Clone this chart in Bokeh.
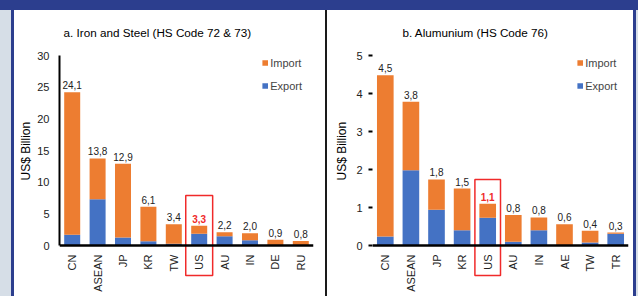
import math
from bokeh.plotting import figure
from bokeh.models import (ColumnDataSource, FixedTicker, Legend, LegendItem, Div,
                          Range1d, FactorRange, InlineStyleSheet, Title)
from bokeh.layouts import row, column
from bokeh.core.properties import value
from bokeh.embed import file_html
from bokeh.resources import INLINE

# ---------------- data ----------------
steel_countries = ["CN", "ASEAN", "JP", "KR", "TW", "US", "AU", "IN", "DE", "RU"]
steel_export = [1.7, 7.3, 1.26, 0.68, 0.26, 1.84, 1.47, 0.84, 0.0, 0.0]
steel_import = [22.5, 6.45, 11.64, 5.42, 3.1, 1.26, 0.63, 1.1, 0.9, 0.7]
steel_labels = ["24,1", "13,8", "12,9", "6,1", "3,4", "3,3", "2,2", "2,0", "0,9", "0,8"]
steel_ticks = [0, 5, 10, 15, 20, 25, 30]

alu_countries = ["CN", "ASEAN", "JP", "KR", "US", "AU", "IN", "AE", "TW", "TR"]
alu_export = [0.24, 1.98, 0.94, 0.40, 0.73, 0.10, 0.40, 0.0, 0.08, 0.31]
alu_import = [4.24, 1.80, 0.80, 1.10, 0.37, 0.70, 0.34, 0.56, 0.31, 0.03]
alu_labels = ["4,5", "3,8", "1,8", "1,5", "1,1", "0,8", "0,8", "0,6", "0,4", "0,3"]
alu_ticks = [0, 1, 2, 3, 4, 5]

y_title = "US$ Billion"
highlight = "US"

# ---------------- style ----------------
FONT = "Liberation Sans"
ORANGE = "#ED7D31"
BLUE = "#4472C4"
NAVY = "#2C3E8E"
GREY = "#D6DEE7"
RED = "#F02A2A"

H = 286
FRAME_TOP = 35      # px within panel canvas
FRAME_BOTTOM = 286  # px within panel canvas
ZERO_PX = 235
TOPTICK_PX = 45


def make_panel(width, title, cats, exp, imp, labels, ticks, bar_w, box_w,
               box_top_px, box_bot_px, min_left, min_right, title_offset,
               show_axis_line, tick_out, label_standoff, ytitle_standoff):
    top_val = ticks[-1]
    upp = top_val / (ZERO_PX - TOPTICK_PX)  # data units per pixel
    y_end = (ZERO_PX - FRAME_TOP) * upp
    y_start = -(FRAME_BOTTOM - ZERO_PX) * upp

    p = figure(width=width, height=H, x_range=FactorRange(factors=cats),
               y_range=Range1d(y_start, y_end), output_backend="svg",
               toolbar_location=None, min_border_left=min_left,
               min_border_right=min_right, min_border_top=FRAME_TOP,
               min_border_bottom=H - FRAME_BOTTOM)
    p.outline_line_color = None
    p.background_fill_color = "white"
    p.border_fill_color = "white"
    p.xgrid.grid_line_color = None
    p.ygrid.grid_line_color = None

    totals = [a + b for a, b in zip(exp, imp)]
    src = ColumnDataSource(dict(cat=cats, export=exp, imp=imp, total=totals,
                                label=labels,
                                color=[RED if c == highlight else "#222222" for c in cats],
                                weight=["bold" if c == highlight else "normal" for c in cats]))
    rs = p.vbar_stack(["export", "imp"], x="cat", width=bar_w, source=src,
                      color=[BLUE, ORANGE], line_color=None)

    p.text(x="cat", y="total", text="label", source=src, text_align="center",
           text_baseline="alphabetic", y_offset=-7, text_font=value(FONT),
           text_font_size="10px", text_color="color", text_font_style="weight")

    # highlight box
    box_top = (ZERO_PX - box_top_px) * upp
    box_bot = (ZERO_PX - box_bot_px) * upp
    p.rect(x=[highlight], y=[(box_top + box_bot) / 2], width=box_w,
           height=box_top - box_bot, fill_color=None, line_color=RED,
           line_width=1.5)

    legend = Legend(items=[LegendItem(label="Import", renderers=[rs[1]]),
                           LegendItem(label="Export", renderers=[rs[0]])],
                    location="top_right", glyph_width=7, glyph_height=7,
                    label_standoff=2, label_text_font=FONT,
                    label_text_font_size="11px", label_height=13,
                    spacing=10, padding=6, margin=11,
                    background_fill_alpha=0, border_line_color=None)
    p.add_layout(legend)

    # x axis fixed at zero
    xa = p.xaxis[0]
    xa.fixed_location = 0
    xa.axis_line_width = 2.5
    xa.axis_line_color = "black"
    xa.major_tick_line_color = None
    xa.minor_tick_line_color = None
    xa.major_label_orientation = math.pi / 2
    xa.major_label_standoff = 3
    xa.major_label_text_font = FONT
    xa.major_label_text_font_size = "11px"
    xa.major_label_text_color = "#222222"

    ya = p.yaxis[0]
    ya.ticker = FixedTicker(ticks=ticks)
    ya.bounds = (0, top_val)
    ya.axis_line_color = "black" if show_axis_line else None
    ya.axis_line_width = 2
    ya.major_tick_out = tick_out
    ya.major_tick_in = 0
    ya.major_tick_line_width = 2
    ya.major_tick_line_color = "black"
    ya.minor_tick_line_color = None
    ya.major_label_standoff = label_standoff
    ya.major_label_text_font = FONT
    ya.major_label_text_font_size = "11px"
    ya.major_label_text_color = "#222222"

    # y-axis title, placed along the 0..max span of the axis
    p.add_layout(Title(text=y_title, align="left", offset=116,
                       standoff=ytitle_standoff, text_font=FONT,
                       text_font_size="12px", text_font_style="normal",
                       text_color="black"), "left")

    p.title.text = title
    p.title.align = "left"
    p.title.offset = title_offset
    p.title.text_font = FONT
    p.title.text_font_size = "11.7px"
    p.title.text_font_style = "normal"
    p.title.text_color = "black"
    p.title.standoff = 13
    return p


p1 = make_panel(311, "a. Iron and Steel (HS Code 72 & 73)", steel_countries,
                steel_export, steel_import, steel_labels, steel_ticks,
                0.63, 1.06, 185, 265, 45, 12, 4, True, 0, 10, 4)
p2 = make_panel(306, "b. Alumunium (HS Code 76)", alu_countries,
                alu_export, alu_import, alu_labels, alu_ticks,
                0.65, 1.0, 169, 265, 44, 5, 30, False, 4, 6, 10)


def block(w, h, color):
    return Div(text="", width=w, height=h, margin=0,
               styles={"background-color": color})


header = block(638, 10, NAVY)
body = row(block(11, H, GREY), block(3, H, NAVY), p1, block(2, H, "#1a1a1a"),
           p2, block(3, H, NAVY), block(2, H, GREY), spacing=0, margin=0)
pin = InlineStyleSheet(css=":host { position: absolute !important; left: 0px !important; "
                           "top: 0px !important; margin: 0px !important; }")
root = column(header, body, spacing=0, margin=0, stylesheets=[pin],
              styles={"position": "absolute", "left": "0px", "top": "0px"})

open("out.html", "w").write(file_html(root, INLINE))
